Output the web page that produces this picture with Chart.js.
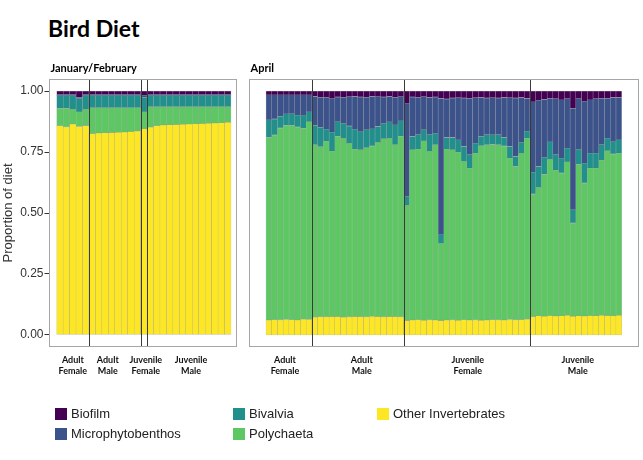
<!DOCTYPE html>
<html>
<head>
<meta charset="utf-8">
<script src="https://cdn.jsdelivr.net/npm/chart.js@4.4.1/dist/chart.umd.min.js"></script>
<style>
body { margin: 0; background: #fff; }
#wrap { position: relative; width: 643px; height: 460px; overflow: hidden; }
canvas { position: absolute; left: 0; top: 0; }
#title { position: absolute; left: 48px; top: 14px; font: bold 23px Lato, sans-serif; color: #000; }
.key { position: absolute; width: 12px; height: 12px; }
.lab { position: absolute; font: 13px "Liberation Sans", Arial, sans-serif; color: #222; line-height: 16px; white-space: nowrap; }
</style>
</head>
<body>
<div id="wrap">
  <div id="title">Bird Diet</div>
  <canvas id="jan" width="643" height="460"></canvas>
  <canvas id="apr" width="643" height="460"></canvas>
</div>
<script>
// series, bottom to top
var seriesNames = ['Other Invertebrates', 'Polychaeta', 'Bivalvia', 'Microphytobenthos', 'Biofilm'];
var seriesColors = ['#fde725', '#5dc863', '#21908c', '#3b528b', '#440154'];
var yTicks = [0, 0.25, 0.5, 0.75, 1];

var groupLabels = [['Adult', 'Female'], ['Adult', 'Male'], ['Juvenile', 'Female'], ['Juvenile', 'Male']];
var janCounts = [5, 8, 1, 13];
var aprCounts = [8, 16, 22, 16];

// January/February (27 birds)
var janOther = [0.858, 0.853, 0.865, 0.855, 0.858,
  0.826, 0.828, 0.829, 0.830, 0.831, 0.832, 0.834, 0.836,
  0.845,
  0.852, 0.858, 0.861, 0.862, 0.863, 0.864, 0.865, 0.866, 0.867, 0.868, 0.869, 0.870, 0.872];
var janPoly = [0.072, 0.077, 0.060, 0.060, 0.067,
  0.106, 0.104, 0.103, 0.102, 0.101, 0.100, 0.098, 0.096,
  0.070,
  0.084, 0.078, 0.075, 0.074, 0.073, 0.072, 0.071, 0.070, 0.069, 0.068, 0.067, 0.066, 0.064];
var janBivalvia = [0.052, 0.052, 0.057, 0.054, 0.057,
  0.050, 0.050, 0.050, 0.050, 0.050, 0.050, 0.050, 0.050,
  0.060,
  0.046, 0.046, 0.046, 0.046, 0.046, 0.046, 0.046, 0.046, 0.046, 0.046, 0.046, 0.046, 0.046];
var janMicro = [0.006, 0.006, 0.006, 0.006, 0.006,
  0.006, 0.006, 0.006, 0.006, 0.006, 0.006, 0.006, 0.006,
  0.008,
  0.006, 0.006, 0.006, 0.006, 0.006, 0.006, 0.006, 0.006, 0.006, 0.006, 0.006, 0.006, 0.006];
var janBiofilm = [0.012, 0.012, 0.012, 0.025, 0.012,
  0.012, 0.012, 0.012, 0.012, 0.012, 0.012, 0.012, 0.012,
  0.017,
  0.012, 0.012, 0.012, 0.012, 0.012, 0.012, 0.012, 0.012, 0.012, 0.012, 0.012, 0.012, 0.012];

// April (62 birds)
var aprOther = [0.060, 0.062, 0.061, 0.063, 0.062, 0.060, 0.064, 0.063,
  0.072, 0.074, 0.073, 0.075, 0.074, 0.072, 0.073, 0.075, 0.074, 0.073, 0.076, 0.074, 0.073, 0.075, 0.074, 0.073,
  0.058, 0.060, 0.062, 0.059, 0.061, 0.060, 0.058, 0.060, 0.061, 0.059, 0.062, 0.060, 0.061, 0.059, 0.060, 0.062, 0.061, 0.060, 0.063, 0.061, 0.062, 0.064,
  0.074, 0.078, 0.076, 0.079, 0.077, 0.078, 0.080, 0.076, 0.078, 0.077, 0.079, 0.078, 0.080, 0.079, 0.078, 0.080];
var aprPoly = [0.750, 0.758, 0.788, 0.796, 0.798, 0.793, 0.784, 0.812,
  0.708, 0.698, 0.722, 0.679, 0.741, 0.734, 0.713, 0.687, 0.686, 0.695, 0.699, 0.716, 0.732, 0.731, 0.706, 0.742,
  0.473, 0.700, 0.700, 0.737, 0.692, 0.720, 0.317, 0.702, 0.699, 0.691, 0.650, 0.624, 0.685, 0.717, 0.720, 0.719, 0.719, 0.715, 0.662, 0.630, 0.683, 0.743,
  0.504, 0.527, 0.582, 0.641, 0.599, 0.586, 0.630, 0.383, 0.622, 0.546, 0.605, 0.606, 0.637, 0.677, 0.664, 0.666];
var aprBivalvia = [0.072, 0.066, 0.048, 0.048, 0.048, 0.049, 0.052, 0.040,
  0.080, 0.080, 0.049, 0.078, 0.060, 0.062, 0.071, 0.082, 0.074, 0.074, 0.070, 0.065, 0.063, 0.068, 0.082, 0.063,
  0.037, 0.054, 0.059, 0.046, 0.068, 0.048, 0.036, 0.048, 0.050, 0.050, 0.061, 0.055, 0.041, 0.039, 0.041, 0.041, 0.041, 0.035, 0.048, 0.041, 0.045, 0.028,
  0.090, 0.086, 0.070, 0.072, 0.063, 0.061, 0.056, 0.055, 0.061, 0.082, 0.062, 0.062, 0.063, 0.051, 0.051, 0.054];
var aprMicro = [0.103, 0.099, 0.088, 0.078, 0.077, 0.083, 0.085, 0.070,
  0.118, 0.123, 0.131, 0.137, 0.101, 0.107, 0.120, 0.134, 0.142, 0.133, 0.133, 0.122, 0.108, 0.104, 0.113, 0.099,
  0.383, 0.162, 0.154, 0.135, 0.153, 0.148, 0.559, 0.158, 0.162, 0.173, 0.199, 0.232, 0.186, 0.159, 0.151, 0.151, 0.151, 0.164, 0.200, 0.240, 0.184, 0.135,
  0.288, 0.271, 0.238, 0.179, 0.230, 0.239, 0.203, 0.416, 0.208, 0.253, 0.218, 0.223, 0.191, 0.164, 0.181, 0.174];
var aprBiofilm = [0.015, 0.015, 0.015, 0.015, 0.015, 0.015, 0.015, 0.015,
  0.022, 0.025, 0.025, 0.031, 0.024, 0.025, 0.023, 0.022, 0.024, 0.025, 0.022, 0.023, 0.024, 0.022, 0.025, 0.023,
  0.049, 0.024, 0.025, 0.023, 0.026, 0.024, 0.030, 0.032, 0.028, 0.027, 0.028, 0.029, 0.027, 0.026, 0.028, 0.027, 0.028, 0.026, 0.027, 0.028, 0.026, 0.030,
  0.044, 0.038, 0.034, 0.029, 0.031, 0.036, 0.031, 0.070, 0.031, 0.042, 0.036, 0.031, 0.029, 0.029, 0.026, 0.026];

// panel outline, group dividers, group labels and strip title
var panelDeco = {
  id: 'panelDeco',
  afterDatasetsDraw: function (chart, args, opts) {
    var ctx = chart.ctx, a = chart.chartArea, xs = chart.scales.x;
    ctx.save();
    var start = 0;
    ctx.textAlign = 'center';
    ctx.textBaseline = 'alphabetic';
    ctx.font = 'bold 9px Lato, sans-serif';
    ctx.fillStyle = '#111';
    opts.counts.forEach(function (n, i) {
      var cx = xs.getPixelForValue(start + (n - 1) / 2) + opts.nudge[i];
      groupLabels[i].forEach(function (t, k) {
        ctx.fillText(t, cx, 363 + k * 11);
      });
      start += n;
      if (i < opts.counts.length - 1) {
        var px = Math.round(xs.getPixelForValue(start - 0.5)) + 0.5;
        ctx.strokeStyle = '#3a3a3a';
        ctx.lineWidth = 1;
        ctx.beginPath();
        ctx.moveTo(px, a.top);
        ctx.lineTo(px, a.bottom);
        ctx.stroke();
      }
    });
    ctx.strokeStyle = '#a6a6a6';
    ctx.lineWidth = 1;
    ctx.strokeRect(Math.round(a.left) + 0.5, Math.round(a.top) + 0.5,
      Math.round(a.right - a.left) - 1, Math.round(a.bottom - a.top) - 1);
    ctx.textAlign = 'left';
    ctx.font = 'bold 11px Lato, sans-serif';
    ctx.fillStyle = '#000';
    ctx.fillText(opts.strip, a.left + 2, 72);
    ctx.restore();
  }
};

function makeSets(cols) {
  return cols.map(function (vals, s) {
    return {
      label: seriesNames[s],
      data: vals.map(function (v, i) { return { x: i, y: v }; }),
      backgroundColor: seriesColors[s],
      borderColor: 'rgba(70,70,70,0.35)',
      borderWidth: 0.5,
      borderSkipped: false,
      barPercentage: 1,
      categoryPercentage: 1
    };
  });
}

function makeChart(id, cols, xmin, xmax, pad, showY, deco) {
  return new Chart(document.getElementById(id), {
    type: 'bar',
    data: { datasets: makeSets(cols) },
    options: {
      responsive: false,
      animation: false,
      devicePixelRatio: 1,
      layout: { padding: pad },
      plugins: { legend: { display: false }, tooltip: { enabled: false }, panelDeco: deco },
      scales: {
        x: { type: 'linear', stacked: true, offset: false, min: xmin, max: xmax, display: false },
        y: {
          stacked: true, min: -0.05, max: 1.05, display: showY,
          afterBuildTicks: function (s) { s.ticks = yTicks.map(function (v) { return { value: v }; }); },
          afterFit: function (s) { s.width = showY ? 48.5 : 0; },
          grid: { drawOnChartArea: false, drawTicks: true, tickLength: 4, color: '#333' },
          border: { display: false },
          ticks: {
            padding: 1, color: '#333',
            font: { family: 'Liberation Sans', size: 12 },
            callback: function (v) { return Number(v).toFixed(2); }
          },
          title: {
            display: true, text: 'Proportion of diet', color: '#333',
            font: { family: 'Liberation Sans', size: 13 }, padding: { top: 1, bottom: 0 }
          }
        }
      }
    },
    plugins: [panelDeco]
  });
}

makeChart('jan', [janOther, janPoly, janBivalvia, janMicro, janBiofilm], -1.77, 27.35,
  { left: 0, top: 79, right: 406.5, bottom: 113 }, true,
  { counts: janCounts, strip: 'January/February', nudge: [0, -7, 2, 2] });

makeChart('apr', [aprOther, aprPoly, aprBivalvia, aprMicro, aprBiofilm], -3.55, 64.34,
  { left: 248.5, top: 79, right: 5, bottom: 113 }, false,
  { counts: aprCounts, strip: 'April', nudge: [-4, 4, 1, 2] });

// legend: filled column by column, two rows
var wrap = document.getElementById('wrap');
var legendOrder = [4, 3, 2, 1, 0];
var colX = [55, 233, 377];
legendOrder.forEach(function (s, k) {
  var col = Math.floor(k / 2), row = k % 2;
  var key = document.createElement('div');
  key.className = 'key';
  key.style.left = colX[col] + 'px';
  key.style.top = (408 + row * 20) + 'px';
  key.style.background = seriesColors[s];
  wrap.appendChild(key);
  var lab = document.createElement('div');
  lab.className = 'lab';
  lab.style.left = (colX[col] + 16) + 'px';
  lab.style.top = (406 + row * 20) + 'px';
  lab.textContent = seriesNames[s];
  wrap.appendChild(lab);
});
</script>
</body>
</html>
